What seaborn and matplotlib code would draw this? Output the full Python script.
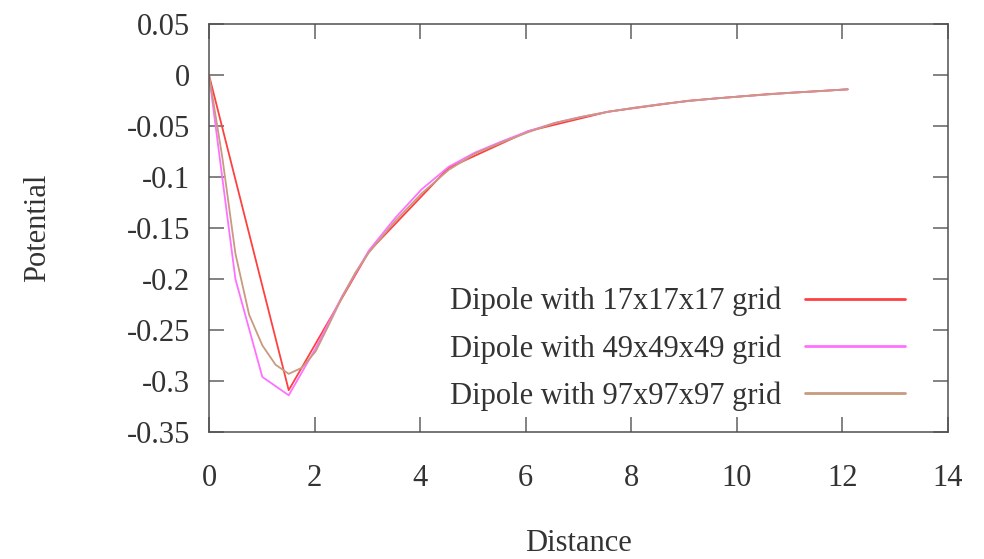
import pandas as pd
import seaborn as sns
import matplotlib.pyplot as plt

# -----------------------------------------------------------------------
# Data (distance vs potential)
# -----------------------------------------------------------------------
LABELS = [
    "Dipole with 17x17x17 grid",
    "Dipole with 49x49x49 grid",
    "Dipole with 97x97x97 grid",
]
COLORS = ["#ff4040", "#ff70ff", "#c89a80"]

x_17 = [0, 1.51, 3.03, 4.54, 6.05, 7.56, 9.08, 10.59, 12.10]
y_17 = [0, -0.309, -0.173, -0.091, -0.055, -0.036, -0.0252, -0.0187, -0.014]

x_49 = [0, 0.50, 1.01, 1.51, 2.02, 2.52, 3.03, 3.53, 4.03, 4.54, 5.04, 5.55,
        6.05, 6.55, 7.06, 7.56, 8.07, 8.57, 9.08, 9.58, 10.08, 10.59, 11.09,
        11.60, 12.10]
y_49 = [0, -0.200, -0.296, -0.314, -0.268, -0.217, -0.172, -0.140, -0.112,
        -0.090, -0.076, -0.065, -0.055, -0.047, -0.041, -0.036, -0.032,
        -0.0285, -0.0255, -0.023, -0.021, -0.019, -0.0172, -0.0157, -0.014]

x_97 = [0, 0.25, 0.50, 0.76, 1.01, 1.26, 1.51, 1.76, 2.02, 2.27, 2.52, 2.77,
        3.03, 3.53, 4.03, 4.54, 5.04, 5.55, 6.05, 6.55, 7.06, 7.56, 8.07,
        8.57, 9.08, 9.58, 10.08, 10.59, 11.09, 11.60, 12.10]
y_97 = [0, -0.080, -0.175, -0.235, -0.265, -0.284, -0.293, -0.287, -0.271,
        -0.245, -0.218, -0.194, -0.174, -0.143, -0.116, -0.093, -0.077,
        -0.066, -0.056, -0.047, -0.041, -0.036, -0.032, -0.0285, -0.0255,
        -0.023, -0.021, -0.019, -0.0172, -0.0157, -0.014]

X_TICKS = [0, 2, 4, 6, 8, 10, 12, 14]
Y_TICKS = [-0.35, -0.3, -0.25, -0.2, -0.15, -0.1, -0.05, 0, 0.05]
Y_TICK_LABELS = ["-0.35", "-0.3", "-0.25", "-0.2", "-0.15", "-0.1", "-0.05", "0", "0.05"]


def build_frame():
    frames = []
    for label, xs, ys in zip(LABELS, [x_17, x_49, x_97], [y_17, y_49, y_97]):
        frames.append(pd.DataFrame({"Distance": xs, "Potential": ys, "series": label}))
    return pd.concat(frames, ignore_index=True)


def main():
    sns.set_theme(style="ticks")
    plt.rcParams["font.family"] = ["Liberation Serif", "DejaVu Serif"]
    plt.rcParams["text.color"] = "#333333"

    df = build_frame()

    fig = plt.figure(figsize=(9.84, 5.59), dpi=100)
    ax = fig.add_axes([0.2124, 0.2272, 0.7510, 0.7298])

    sns.lineplot(
        data=df, x="Distance", y="Potential", hue="series",
        palette=dict(zip(LABELS, COLORS)), hue_order=LABELS,
        sort=False, estimator=None, linewidth=1.3, legend=False, ax=ax,
    )

    ax.set_xlim(0, 14)
    ax.set_ylim(-0.35, 0.05)
    ax.set_xticks(X_TICKS)
    ax.set_xticklabels([str(t) for t in X_TICKS])
    ax.set_yticks(Y_TICKS)
    ax.set_yticklabels(Y_TICK_LABELS)

    for side in ["top", "right", "left", "bottom"]:
        ax.spines[side].set_visible(True)
        ax.spines[side].set_color("#505050")
        ax.spines[side].set_linewidth(1.1)

    ax.tick_params(axis="both", direction="in", length=10.8, width=1.1,
                   color="#606060", labelsize=22, labelcolor="#333333",
                   top=True, right=True)
    ax.tick_params(axis="y", pad=13.5)
    ax.tick_params(axis="x", pad=23)

    ax.set_xlabel("Distance", fontsize=22, color="#333333")
    ax.set_ylabel("Potential", fontsize=22, color="#333333")
    ax.xaxis.set_label_coords(0.5, -0.237)
    ax.yaxis.set_label_coords(-0.2125, 0.5)

    handles = ax.lines[:3]
    for h, c in zip(handles, COLORS):
        h.set_color(c)
    leg = ax.legend(
        handles, LABELS, loc="center right", bbox_to_anchor=(0.942, 0.204),
        frameon=False, markerfirst=False, fontsize=22, handlelength=3.27,
        handletextpad=0.78, labelspacing=0.58, borderpad=0, borderaxespad=0,
    )
    for line in leg.get_lines():
        line.set_linewidth(2.0)

    fig.savefig("out.png", dpi=100)
    plt.close(fig)


if __name__ == "__main__":
    main()
